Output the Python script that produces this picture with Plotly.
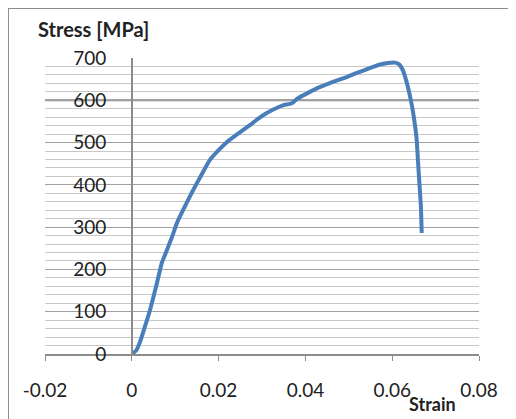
import plotly.graph_objects as go

strain = [0.0, 0.0010, 0.0018, 0.0030, 0.0042, 0.0058, 0.0069, 0.0081, 0.0092, 0.0104,
          0.0118, 0.0135, 0.0150, 0.0165, 0.0180, 0.0200, 0.0219, 0.0245, 0.0272, 0.0292,
          0.0311, 0.0330, 0.0348, 0.0369, 0.0380, 0.0405, 0.0433, 0.0465, 0.0495, 0.0522,
          0.0548, 0.0570, 0.0590, 0.0606, 0.0616, 0.0625, 0.0634, 0.0642, 0.0648, 0.0656,
          0.0661, 0.0666, 0.0668]
stress = [0, 8, 26, 64, 104, 168, 215, 246, 275, 310,
          340, 375, 404, 432, 459, 482, 501, 521, 541, 557,
          570, 580, 588, 593, 603, 617, 631, 644, 655, 666,
          676, 684, 688, 689, 685, 670, 640, 605, 572, 511,
          430, 352, 286]

x_ticks = [-0.02, 0, 0.02, 0.04, 0.06, 0.08]
x_tick_labels = ["-0.02", "0", "0.02", "0.04", "0.06", "0.08"]
y_ticks = [0, 100, 200, 300, 400, 500, 600, 700]
emphasized_grid = [600]

FONT = "Lato, 'Open Sans', sans-serif"

fig = go.Figure()
fig.add_trace(go.Scatter(x=strain, y=stress, mode="lines",
                         line=dict(color="#4A7EBB", width=4, shape="spline", smoothing=0.4),
                         showlegend=False))

shapes = []
for v in emphasized_grid:
    shapes.append(dict(type="line", xref="paper", x0=0, x1=1, yref="y", y0=v, y1=v,
                       line=dict(color="#858585", width=2), layer="below"))
# outer chart border (top and left visible)
shapes.append(dict(type="line", xref="paper", yref="paper", x0=-0.0853, x1=1.2,
                   y0=1.169, y1=1.169, line=dict(color="#8c8c8c", width=2)))
shapes.append(dict(type="line", xref="paper", yref="paper", x0=-0.0853, x1=-0.0853,
                   y0=1.169, y1=-0.3, line=dict(color="#8c8c8c", width=2)))

fig.update_layout(
    width=508, height=411,
    margin=dict(l=37, r=37, t=50, b=65),
    paper_bgcolor="white", plot_bgcolor="white",
    font=dict(family=FONT, size=19, color="#222"),
    shapes=shapes,
    xaxis=dict(range=[-0.02, 0.08], tickvals=x_ticks, ticktext=x_tick_labels,
               showgrid=False, zeroline=False, showline=True, linecolor="#8c8c8c",
               linewidth=1.5, ticks="outside", ticklen=5, tickcolor="#8c8c8c",
               ticklabelstandoff=13, tickfont=dict(size=19)),
    yaxis=dict(range=[0, 700], tickvals=y_ticks, anchor="free", position=0.2,
               showgrid=True, gridcolor="#a0a0a0", gridwidth=1,
               minor=dict(dtick=20, showgrid=True, gridcolor="#c8c8c8", gridwidth=1),
               zeroline=False, showline=True, linecolor="#8c8c8c", linewidth=1.5,
               ticks="", ticklabelstandoff=21, tickfont=dict(size=19)),
    annotations=[
        dict(text="<b>Stress [MPa]</b>", xref="paper", yref="paper", x=-0.0207, y=1.098,
             xanchor="left", yanchor="middle", showarrow=False,
             font=dict(family=FONT, size=20, color="#222")),
        dict(text="<b>Strain</b>", xref="paper", yref="paper", x=0.894, y=-0.212,
             xanchor="center", yanchor="bottom", showarrow=False,
             font=dict(family=FONT, size=18, color="#222")),
    ],
)

fig.write_html("out.html")
